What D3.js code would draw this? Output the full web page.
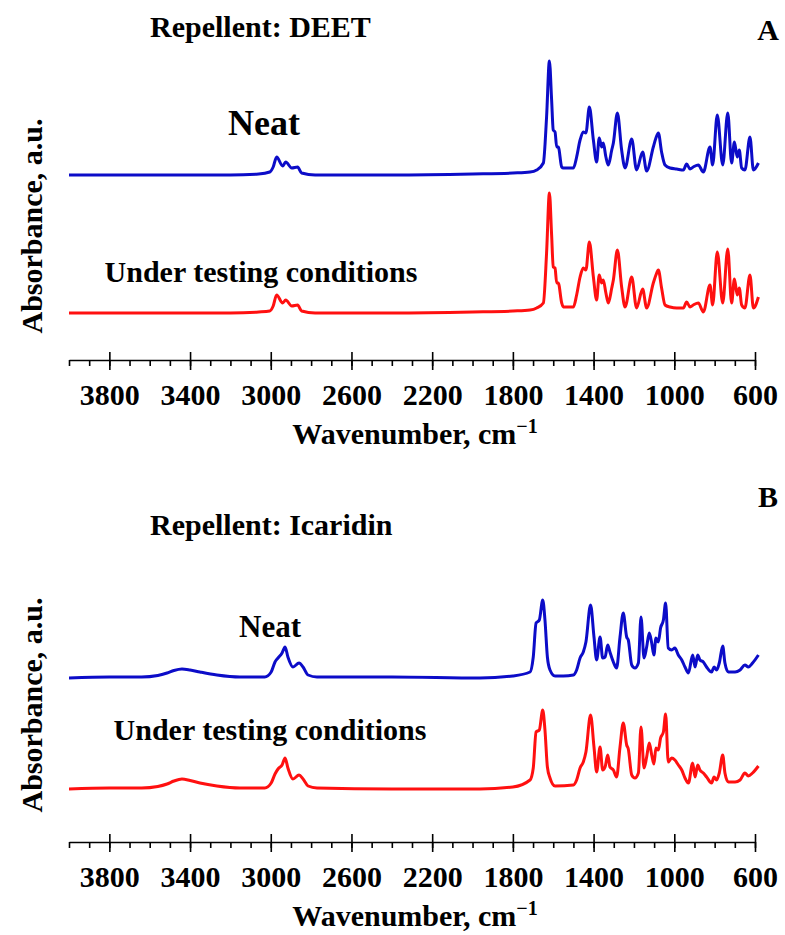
<!DOCTYPE html>
<html>
<head>
<meta charset="utf-8">
<script src="https://cdn.jsdelivr.net/npm/d3@7"></script>
<style>
body { margin: 0; background: #fff; }
text { font-family: "Liberation Serif", "Times New Roman", serif; font-weight: bold; fill: #000; }
</style>
</head>
<body>
<svg width="785" height="935"></svg>
<script>
// [wavenumber cm-1, absorbance a.u. above baseline]
const deetNeat = [
  [4000,0.00],[3800,0.00],[3600,0.00],[3400,0.00],[3200,0.00],[3060,0.01],[3005,0.03],[2988,0.08],
  [2971,0.18],[2941,0.09],[2926,0.13],[2896,0.07],[2867,0.08],[2847,0.02],[2780,0.00],[2400,0.00],
  [2000,0.01],[1800,0.02],[1715,0.03],[1682,0.05],[1649,0.12],[1633,0.58],[1619,1.14],[1608,0.75],
  [1600,0.45],[1591,0.43],[1583,0.28],[1575,0.28],[1558,0.08],[1550,0.07],[1500,0.07],[1484,0.18],
  [1467,0.35],[1451,0.43],[1438,0.42],[1421,0.68],[1401,0.35],[1385,0.13],[1372,0.37],[1360,0.28],
  [1352,0.32],[1339,0.18],[1327,0.10],[1310,0.25],[1302,0.32],[1282,0.62],[1261,0.25],[1244,0.07],
  [1211,0.36],[1187,0.05],[1157,0.23],[1137,0.04],[1104,0.28],[1091,0.37],[1079,0.42],[1063,0.23],
  [1046,0.10],[1021,0.07],[988,0.06],[955,0.05],[939,0.11],[922,0.06],[906,0.08],[881,0.10],
  [856,0.03],[823,0.28],[810,0.10],[787,0.60],[760,0.10],[735,0.62],[716,0.12],[702,0.33],
  [688,0.18],[678,0.25],[666,0.07],[650,0.05],[625,0.38],[608,0.05],[583,0.12]
];
const deetTest = [
  [4000,0.00],[3800,0.00],[3600,0.00],[3400,0.00],[3200,0.00],[3060,0.01],[3005,0.02],[2988,0.07],
  [2971,0.18],[2941,0.10],[2926,0.13],[2896,0.07],[2867,0.08],[2847,0.02],[2780,0.00],[2400,0.00],
  [2000,0.01],[1800,0.02],[1715,0.03],[1682,0.05],[1649,0.10],[1633,0.60],[1619,1.20],[1608,0.78],
  [1600,0.46],[1591,0.45],[1583,0.30],[1575,0.30],[1558,0.10],[1550,0.06],[1500,0.06],[1484,0.18],
  [1467,0.36],[1451,0.45],[1438,0.43],[1421,0.71],[1401,0.36],[1385,0.13],[1372,0.38],[1360,0.30],
  [1352,0.33],[1339,0.20],[1327,0.10],[1310,0.25],[1302,0.33],[1282,0.63],[1261,0.26],[1244,0.06],
  [1211,0.36],[1187,0.05],[1157,0.24],[1137,0.05],[1104,0.30],[1091,0.38],[1079,0.43],[1063,0.25],
  [1046,0.08],[1021,0.06],[988,0.05],[955,0.05],[939,0.11],[922,0.06],[906,0.08],[881,0.10],
  [856,0.01],[823,0.28],[810,0.08],[787,0.61],[760,0.10],[735,0.64],[716,0.10],[702,0.34],
  [688,0.18],[678,0.25],[666,0.08],[650,0.05],[625,0.38],[608,0.05],[583,0.16]
];
const icaNeat = [
  [4000,-0.01],[3800,0.00],[3640,0.00],[3560,0.015],[3514,0.04],[3480,0.065],[3440,0.08],[3400,0.07],
  [3351,0.05],[3267,0.02],[3153,0.00],[3030,0.00],[2998,0.05],[2979,0.15],[2964,0.19],[2944,0.24],
  [2929,0.30],[2915,0.20],[2890,0.10],[2860,0.14],[2840,0.10],[2815,0.02],[2771,0.00],[2400,0.00],
  [1963,-0.01],[1800,0.01],[1715,0.05],[1699,0.20],[1685,0.54],[1679,0.55],[1669,0.57],[1652,0.77],
  [1641,0.57],[1629,0.20],[1616,0.07],[1591,0.01],[1550,0.01],[1500,0.02],[1484,0.07],[1467,0.19],
  [1451,0.25],[1438,0.35],[1415,0.72],[1398,0.40],[1385,0.17],[1368,0.40],[1355,0.19],[1343,0.20],
  [1330,0.32],[1319,0.25],[1302,0.15],[1286,0.09],[1269,0.40],[1253,0.64],[1236,0.40],[1228,0.37],
  [1211,0.12],[1195,0.09],[1178,0.14],[1165,0.60],[1150,0.19],[1137,0.30],[1124,0.44],[1112,0.34],
  [1101,0.22],[1091,0.39],[1079,0.35],[1068,0.49],[1054,0.57],[1043,0.74],[1030,0.29],[1013,0.27],
  [997,0.29],[980,0.22],[963,0.17],[947,0.10],[930,0.04],[909,0.22],[897,0.10],[884,0.22],
  [873,0.17],[856,0.15],[840,0.10],[815,0.05],[803,0.10],[790,0.07],[777,0.14],[760,0.31],
  [749,0.14],[732,0.05],[699,0.05],[674,0.07],[650,0.12],[633,0.10],[612,0.14],[583,0.22]
];
const icaTest = [
  [4000,-0.01],[3800,0.00],[3640,0.00],[3560,0.015],[3514,0.04],[3480,0.07],[3440,0.09],[3400,0.075],
  [3351,0.05],[3267,0.02],[3153,0.00],[3030,0.00],[2998,0.05],[2979,0.14],[2964,0.19],[2944,0.23],
  [2929,0.30],[2915,0.20],[2890,0.09],[2860,0.13],[2840,0.09],[2815,0.02],[2771,0.00],[2400,-0.01],
  [1963,-0.01],[1800,0.01],[1715,0.08],[1699,0.20],[1685,0.56],[1669,0.58],[1652,0.78],[1641,0.58],
  [1629,0.21],[1616,0.10],[1591,0.02],[1500,0.03],[1484,0.08],[1467,0.20],[1451,0.26],[1438,0.36],
  [1415,0.73],[1398,0.41],[1385,0.16],[1368,0.41],[1355,0.18],[1343,0.21],[1330,0.33],[1319,0.21],
  [1302,0.18],[1286,0.11],[1269,0.41],[1253,0.65],[1236,0.43],[1228,0.39],[1211,0.13],[1195,0.10],
  [1178,0.15],[1165,0.61],[1150,0.20],[1137,0.31],[1124,0.45],[1112,0.33],[1101,0.24],[1091,0.40],
  [1079,0.38],[1068,0.50],[1054,0.56],[1043,0.74],[1030,0.26],[1013,0.30],[997,0.28],[980,0.23],
  [963,0.18],[947,0.10],[930,0.05],[909,0.25],[897,0.11],[884,0.23],[873,0.18],[856,0.15],
  [840,0.11],[815,0.05],[803,0.11],[790,0.08],[777,0.15],[760,0.33],[749,0.15],[732,0.06],
  [699,0.06],[674,0.08],[650,0.15],[633,0.12],[612,0.15],[583,0.22]
];
const majorTicks = [3800, 3400, 3000, 2600, 2200, 1800, 1400, 1000, 600];
const minorTicks = d3.range(4000, 599, -100);
const neatOffsets = [1.38, 1.11]; // vertical stacking of the neat trace, a.u.

const svg = d3.select('svg');
const x = d3.scaleLinear().domain([4000, 600]).range([69, 755]);

const panels = [
  {letter: 'A', title: 'Repellent: DEET', neat: deetNeat, test: deetTest, off: neatOffsets[0],
   base: 313, axisY: 360, titleY: 37, letterY: 40, neatPos: [264, 135, 36], testPos: [261, 282], yLab: 226},
  {letter: 'B', title: 'Repellent: Icaridin', neat: icaNeat, test: icaTest, off: neatOffsets[1],
   base: 788, axisY: 842, titleY: 535, letterY: 507, neatPos: [270, 637, 31], testPos: [270, 740], yLab: 705}
];

panels.forEach(p => {
  const y = d3.scaleLinear().domain([0, 1]).range([p.base, p.base - 100]);
  const line = off => d3.line()
    .x(d => x(d[0]))
    .y(d => y(d[1] + off))
    .curve(d3.curveMonotoneX);

  svg.append('path').datum(p.neat)
    .attr('fill', 'none').attr('stroke', '#0c0cc8').attr('stroke-width', 3)
    .attr('stroke-linejoin', 'round').attr('d', line(p.off));
  svg.append('path').datum(p.test)
    .attr('fill', 'none').attr('stroke', '#ff1010').attr('stroke-width', 3)
    .attr('stroke-linejoin', 'round').attr('d', line(0));

  // x axis: minor ticks down, major ticks crossing the line
  const gMinor = svg.append('g').attr('transform', `translate(0,${p.axisY})`)
    .call(d3.axisBottom(x).tickValues(minorTicks).tickSize(6).tickSizeOuter(0).tickFormat(''));
  const gMajor = svg.append('g').attr('transform', `translate(0,${p.axisY})`)
    .call(d3.axisBottom(x).tickValues(majorTicks).tickSize(10).tickPadding(14).tickFormat(d3.format('d')));
  gMajor.select('.domain').remove();
  const gUp = svg.append('g').attr('transform', `translate(0,${p.axisY})`)
    .call(d3.axisTop(x).tickValues(majorTicks).tickSize(8).tickFormat(''));
  gUp.select('.domain').remove();
  [gMinor, gMajor, gUp].forEach(g => {
    g.selectAll('path,line').attr('stroke', '#000').attr('stroke-width', 1.6);
  });
  gMajor.selectAll('text').attr('font-size', 30).attr('font-family', null).attr('fill', '#000');

  const xt = svg.append('text').attr('x', 415).attr('y', p.axisY + 84)
    .attr('text-anchor', 'middle').attr('font-size', 30).text('Wavenumber, cm');
  xt.append('tspan').attr('dy', -11).attr('font-size', 20).text('\u22121');

  svg.append('text')
    .attr('transform', `translate(42,${p.yLab}) rotate(-90)`)
    .attr('text-anchor', 'middle').attr('font-size', 30).text('Absorbance, a.u.');

  svg.append('text').attr('x', 150).attr('y', p.titleY)
    .attr('font-size', 30).text(p.title);
  svg.append('text').attr('x', 768).attr('y', p.letterY)
    .attr('text-anchor', 'middle').attr('font-size', 30).text(p.letter);

  svg.append('text').attr('x', p.neatPos[0]).attr('y', p.neatPos[1])
    .attr('text-anchor', 'middle').attr('font-size', p.neatPos[2]).text('Neat');
  svg.append('text').attr('x', p.testPos[0]).attr('y', p.testPos[1])
    .attr('text-anchor', 'middle').attr('font-size', 30).text('Under testing conditions');
});
</script>
</body>
</html>
